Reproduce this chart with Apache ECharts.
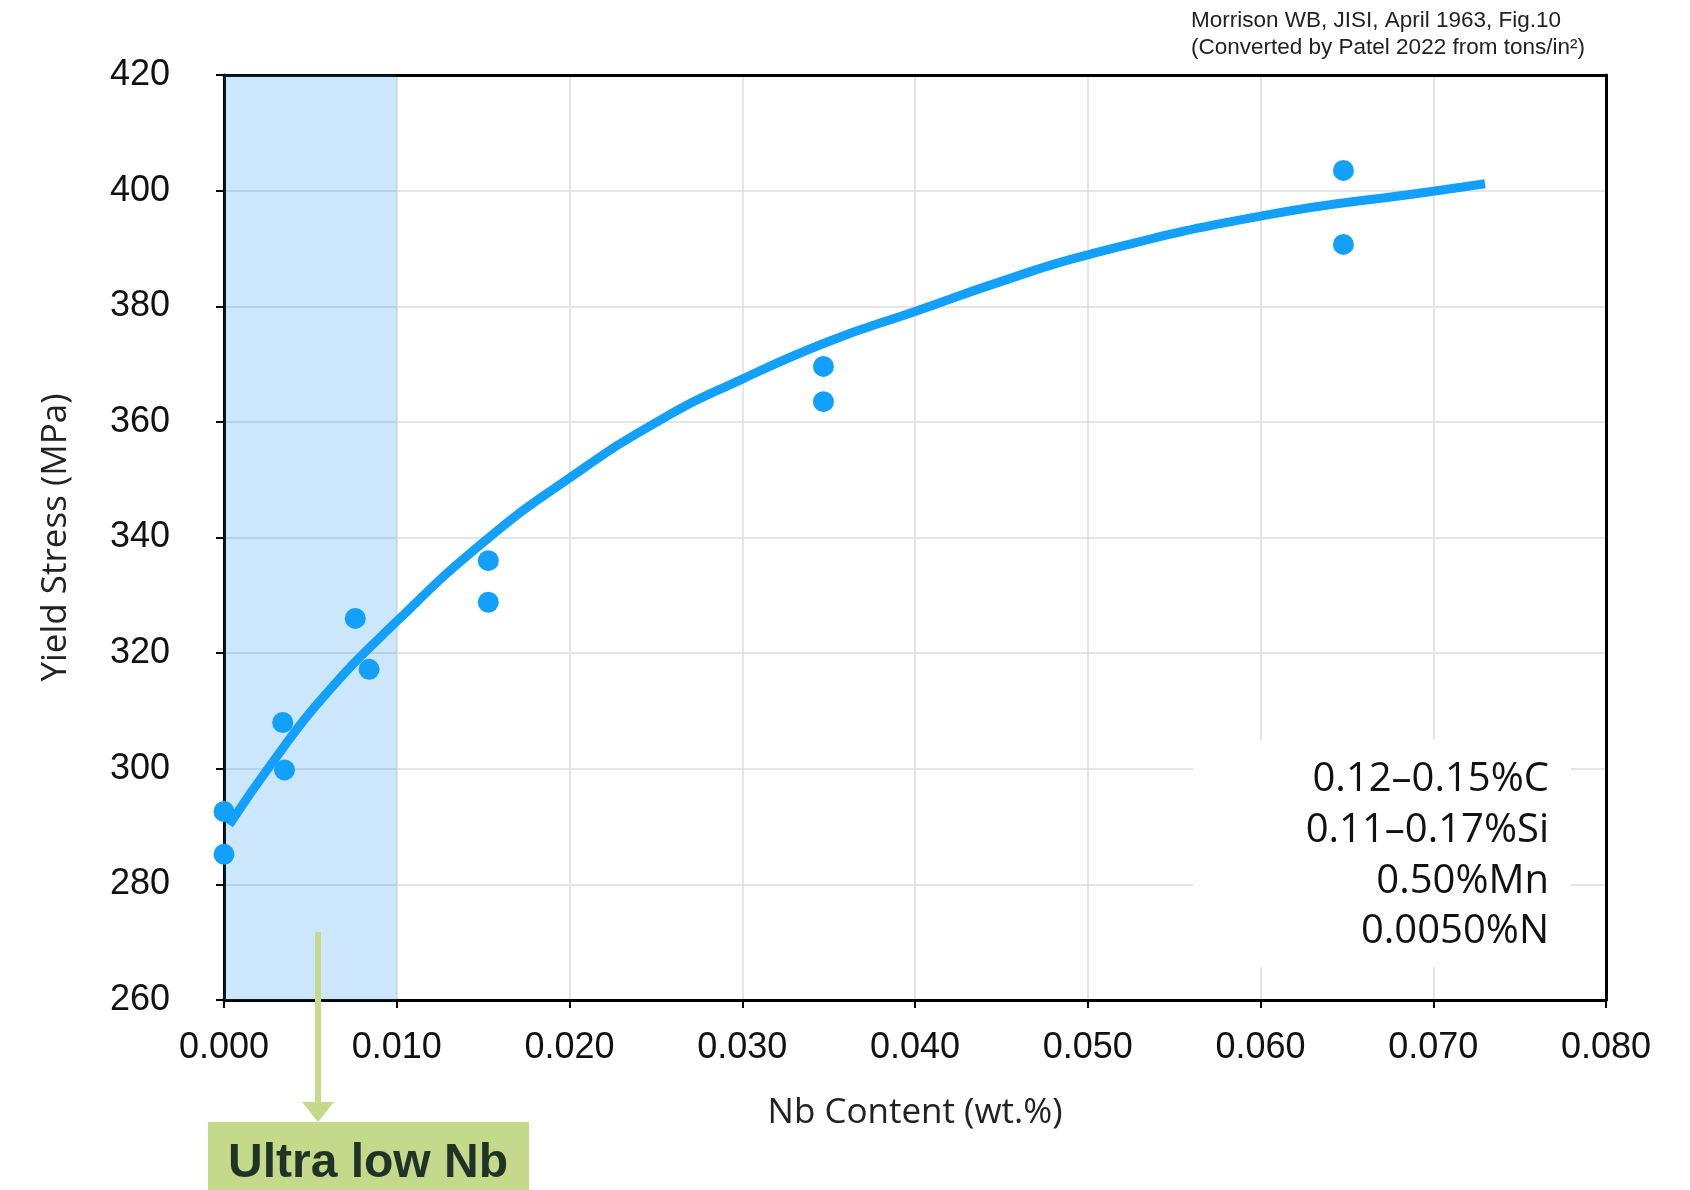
<!DOCTYPE html>
<html>
<head>
<meta charset="utf-8">
<script src="https://cdn.jsdelivr.net/npm/echarts@6/dist/echarts.min.js"></script>
<style>
  html, body { margin: 0; padding: 0; background: #fff; }
  #chart { width: 1690px; height: 1190px; }
</style>
</head>
<body>
<div id="chart"></div>
<script>
// Measured yield stress (MPa) against Nb content (wt.%)
const nbContent   = [0.0000, 0.0000, 0.0034, 0.0035, 0.0076, 0.0084, 0.0153, 0.0153, 0.0347, 0.0347, 0.0648, 0.0648];
const yieldStress = [292.6, 285.2, 308.0, 299.8, 326.0, 317.2, 336.0, 328.8, 369.6, 363.5, 403.5, 390.7];

// Fitted trend curve
const fitNb    = [0.0003, 0.0029, 0.0058, 0.0100, 0.0151, 0.0200, 0.0253, 0.0300, 0.0350, 0.0400, 0.0450, 0.0500, 0.0600, 0.0700, 0.0730];
const fitYield = [290.3, 301.5, 312.6, 325.5, 339.4, 350.3, 360.4, 367.4, 373.9, 379.1, 384.3, 388.9, 395.6, 399.9, 401.2];

// Ultra low Nb band
const ultraLowRange = [0.000, 0.010];

const xTicks = { min: 0, max: 0.08, interval: 0.01 };
const yTicks = { min: 260, max: 420, interval: 20 };

const compositionLines = ['0.12–0.15%C', '0.11–0.17%Si', '0.50%Mn', '0.0050%N'];
const sourceLines = ['Morrison WB, JISI, April 1963, Fig.10', '(Converted by Patel 2022 from tons/in²)'];

const BLUE = '#12a0fb';
const GREEN = '#c5d98a';

const chart = echarts.init(document.getElementById('chart'), null, { renderer: 'canvas' });

const scatterData = nbContent.map((x, i) => [x, yieldStress[i]]);
const fitData = fitNb.map((x, i) => [x, fitYield[i]]);

const gridRect = { left: 224, top: 75, right: 84, bottom: 190 };
const boxLeft = 1193, boxTop = 740, boxW = 378, boxH = 227;

const frameAxis = {
  type: 'value',
  axisLine: { show: true, onZero: false, lineStyle: { color: '#000', width: 3 } },
  axisTick: { show: false },
  axisLabel: { show: false },
  splitLine: { show: false }
};

chart.setOption({
  animation: false,
  backgroundColor: '#ffffff',
  grid: Object.assign({ show: false }, gridRect),
  xAxis: [{
    type: 'value',
    min: xTicks.min, max: xTicks.max, interval: xTicks.interval,
    name: 'Nb Content (wt.%)',
    nameLocation: 'middle',
    nameGap: 96,
    nameTextStyle: { fontFamily: 'Open Sans', fontSize: 35, color: '#222' },
    axisLine: { show: true, onZero: false, lineStyle: { color: '#000', width: 3 } },
    axisTick: { show: true, length: 8, lineStyle: { color: '#000', width: 2 } },
    axisLabel: {
      margin: 30, fontFamily: 'Liberation Sans', fontSize: 36, color: '#111',
      formatter: v => v.toFixed(3)
    },
    splitLine: { show: true, lineStyle: { color: '#dcdcdc', width: 1.5 } }
  }, Object.assign({ position: 'top', min: xTicks.min, max: xTicks.max }, frameAxis)],
  yAxis: [{
    type: 'value',
    min: yTicks.min, max: yTicks.max, interval: yTicks.interval,
    name: 'Yield Stress (MPa)',
    nameLocation: 'middle',
    nameGap: 150,
    nameTextStyle: { fontFamily: 'Open Sans', fontSize: 35, color: '#222' },
    axisLine: { show: true, onZero: false, lineStyle: { color: '#000', width: 3 } },
    axisTick: { show: true, length: 8, lineStyle: { color: '#000', width: 2 } },
    axisLabel: { margin: 54, fontFamily: 'Liberation Sans', fontSize: 36, color: '#111' },
    splitLine: { show: true, lineStyle: { color: '#dcdcdc', width: 1.5 } }
  }, Object.assign({ position: 'right', min: yTicks.min, max: yTicks.max }, frameAxis)],
  series: [
    {
      // shaded band for ultra low Nb grades
      type: 'line',
      data: [],
      z: 1,
      silent: true,
      markArea: {
        silent: true,
        itemStyle: { color: 'rgba(0,130,240,0.2)' },
        data: [[{ xAxis: ultraLowRange[0] }, { xAxis: ultraLowRange[1] }]]
      }
    },
    {
      type: 'line',
      data: fitData,
      smooth: 0.5,
      showSymbol: false,
      z: 3,
      lineStyle: { color: BLUE, width: 9, cap: 'butt' }
    },
    {
      type: 'scatter',
      data: scatterData,
      symbol: 'circle',
      symbolSize: 21,
      z: 4,
      itemStyle: { color: BLUE, opacity: 1 }
    }
  ],
  graphic: [
    // composition note
    {
      type: 'rect', z: 50,
      shape: { x: boxLeft, y: boxTop, width: boxW, height: boxH },
      style: { fill: '#fff' }
    },
    ...compositionLines.map((t, i) => ({
      type: 'text', z: 51,
      x: 1549, y: 780 + i * 50.7,
      style: {
        text: t, fontFamily: 'Open Sans', fontSize: 40, fill: '#111',
        textAlign: 'right', textVerticalAlign: 'middle'
      }
    })),
    // source reference
    ...sourceLines.map((t, i) => ({
      type: 'text', z: 51,
      x: 1191, y: 21 + i * 27,
      style: {
        text: t, fontFamily: 'Liberation Sans', fontSize: 22.5, fill: '#222',
        textAlign: 'left', textVerticalAlign: 'middle'
      }
    })),
    // arrow pointing to the label
    {
      type: 'line', z: 51,
      shape: { x1: 318, y1: 932, x2: 318, y2: 1104 },
      style: { stroke: GREEN, lineWidth: 6 }
    },
    {
      type: 'polygon', z: 51,
      shape: { points: [[302, 1102], [334, 1102], [318, 1122]] },
      style: { fill: GREEN }
    },
    {
      type: 'rect', z: 51,
      shape: { x: 208, y: 1122, width: 321, height: 80 },
      style: { fill: GREEN }
    },
    {
      type: 'text', z: 52,
      x: 368, y: 1164,
      style: {
        text: 'Ultra low Nb', fontFamily: 'Liberation Sans', fontWeight: 'bold',
        fontSize: 48, fill: '#1f3326', textAlign: 'center', textVerticalAlign: 'middle'
      }
    }
  ]
});
</script>
</body>
</html>
